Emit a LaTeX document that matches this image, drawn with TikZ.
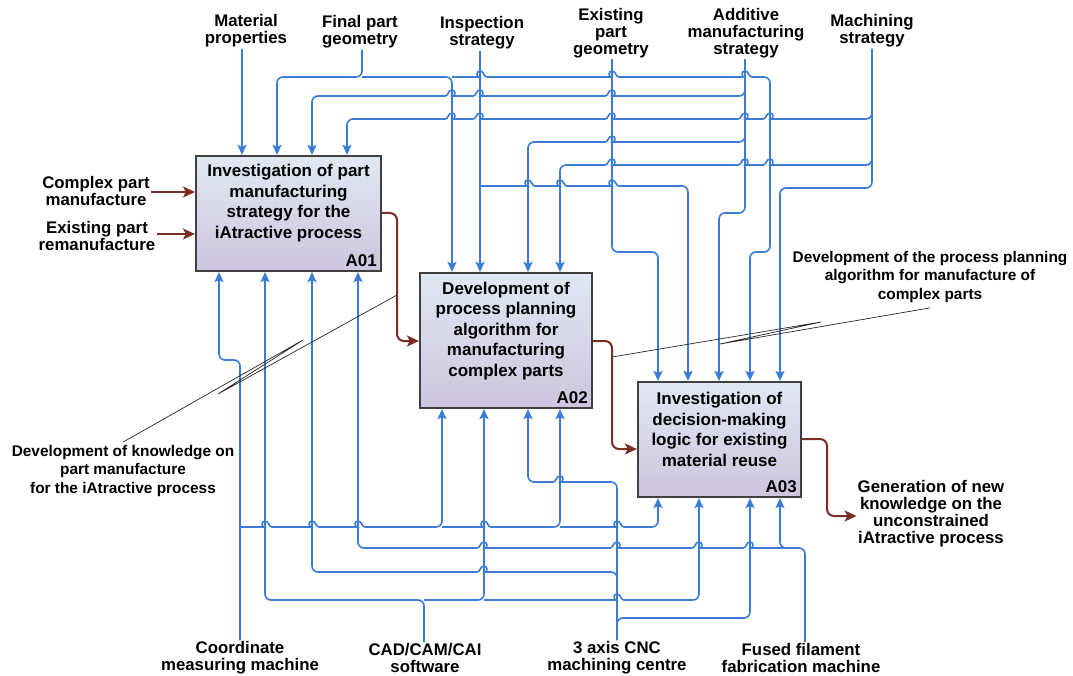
\documentclass[tikz,border=0pt]{standalone}
\usepackage{fontspec}
\setmainfont{Liberation Sans}
\usetikzlibrary{arrows.meta}
\definecolor{flow}{RGB}{58,124,214}
\definecolor{outc}{RGB}{122,44,37}
\definecolor{edgec}{RGB}{64,64,64}
\definecolor{topfill}{RGB}{224,232,243}
\definecolor{botfill}{RGB}{205,197,222}
\definecolor{leadc}{RGB}{40,40,40}

% small hump of a horizontal wire crossing a vertical one at x=#1 on row y=#2
\newcommand\hopR[2]{-- (#1-7,#2) [sharp corners] .. controls (#1-3.5,#2) and (#1-4,#2-6) .. (#1,#2-6) .. controls (#1+4,#2-6) and (#1+3.5,#2) .. (#1+7,#2) [rounded corners=6pt]}
\newcommand\hopL[2]{-- (#1+7,#2) [sharp corners] .. controls (#1+3.5,#2) and (#1+4,#2-6) .. (#1,#2-6) .. controls (#1-4,#2-6) and (#1-3.5,#2) .. (#1-7,#2) [rounded corners=6pt]}

\begin{document}
\begin{tikzpicture}[x=1pt,y=-1pt,
  wire/.style={draw=flow,line width=1.6pt,rounded corners=6pt},
  feed/.style={wire,-{Stealth[length=10pt,width=9pt,inset=2pt]}},
  flowout/.style={draw=outc,line width=2pt,rounded corners=7pt,-{Stealth[length=12pt,width=11pt,inset=3pt]}},
  leader/.style={draw=leadc,line width=0.7pt},
  act/.style={draw=edgec,line width=2.2pt,top color=topfill,bottom color=botfill,inner sep=0pt},
  acttext/.style={font=\fontsize{17pt}{20.5pt}\selectfont\bfseries,align=center,inner sep=0pt},
  actid/.style={font=\fontsize{17pt}{18pt}\selectfont\bfseries,anchor=south east,inner sep=5pt},
  lab/.style={font=\fontsize{16.8pt}{17pt}\selectfont\bfseries,align=center,inner sep=1pt},
  note/.style={font=\fontsize{15.4pt}{18.5pt}\selectfont\bfseries,align=center,inner sep=1pt},
]
\fill[white] (0,0) rectangle (1073,676);
\useasboundingbox (0,0) rectangle (1073,676);

% activity boxes
\node[act,minimum width=185pt,minimum height=115pt] (A01) at (288.5,213.5) {};
\node[act,minimum width=172pt,minimum height=135pt] (A02) at (506,340.5) {};
\node[act,minimum width=163pt,minimum height=115pt] (A03) at (719.5,439.5) {};
\node[acttext] (A01t) at (288.5,203) {Investigation of part\\manufacturing\\strategy for the\\iAtractive process};
\node[acttext] (A02t) at (506,331) {Development of\\process planning\\algorithm for\\manufacturing\\complex parts};
\node[acttext] (A03t) at (719.5,429.5) {Investigation of\\decision-making\\logic for existing\\material reuse};
\node[actid] (A01id) at (A01.south east) {A01};
\node[actid] (A02id) at (A02.south east) {A02};
\node[actid] (A03id) at (A03.south east) {A03};

% labels
\node[lab] (matprop) at (246,31) {Material\\properties};
\node[lab] (finalgeo) at (360,32) {Final part\\geometry};
\node[lab] (insp) at (482,33) {Inspection\\strategy};
\node[lab] (exgeo) at (611,33) {Existing\\part\\geometry};
\node[lab] (addms) at (746,33) {Additive\\manufacturing\\strategy};
\node[lab] (machs) at (872,31) {Machining\\strategy};
\node[lab] (cpm) at (96,191) {Complex part\\manufacture};
\node[lab] (epr) at (97,236) {Existing part\\remanufacture};
\node[lab] (cmm) at (240,658) {Coordinate\\measuring machine};
\node[lab] (cad) at (425,658) {CAD/CAM/CAI\\software};
\node[lab] (cnc) at (617,658) {3 axis CNC\\machining centre};
\node[lab] (fff) at (801,658) {Fused filament\\fabrication machine};
\node[note] (ppnote) at (930,277) {Development of the process planning\\algorithm for manufacture of\\complex parts};
\node[note] (kwnote) at (123,471) {Development of knowledge on\\part manufacture\\for the iAtractive process};
\node[lab] (newkw) at (931,514) {Generation of new\\knowledge on the\\unconstrained\\iAtractive process};

% controls
\draw[feed] (242,0 |- matprop.south) -- (242,0 |- A01.north);
\draw[feed] (362,0 |- finalgeo.south) -- (362,77) -- (277,77) -- (277,0 |- A01.north);
\draw[feed] (362,77) -- (452,77) -- (452,0 |- A02.north);
\draw[feed] (452,77) \hopR{480}{77} \hopR{612}{77} \hopR{745}{77} -- (770,77) -- (770,252) -- (750,252) -- (750,0 |- A03.north);
\draw[feed] (480,0 |- insp.south) -- (480,0 |- A02.north);
\draw[feed] (480,186) \hopR{528}{186} \hopR{560}{186} \hopR{612}{186} -- (688,186) -- (688,0 |- A03.north);
\draw[feed] (612,0 |- exgeo.south) -- (612,252) -- (658,252) -- (658,0 |- A03.north);
\draw[feed] (745,0 |- addms.south) -- (745,213) -- (719,213) -- (719,0 |- A03.north);
\draw[feed] (745,84) -- (745,96) \hopL{612}{96} \hopL{480}{96} \hopL{452}{96} -- (312,96) -- (312,0 |- A01.north);
\draw[feed] (745,130) -- (745,142) \hopL{612}{142} -- (528,142) -- (528,0 |- A02.north);
\draw[feed] (872,0 |- machs.south) -- (872,188) -- (780,188) -- (780,0 |- A03.north);
\draw[feed] (872,107) -- (872,119) \hopL{770}{119} \hopL{745}{119} \hopL{612}{119} \hopL{480}{119} \hopL{452}{119} -- (347,119) -- (347,0 |- A01.north);
\draw[feed] (872,153) -- (872,165) \hopL{770}{165} \hopL{745}{165} \hopL{612}{165} -- (560,165) -- (560,0 |- A02.north);

% mechanisms
\draw[feed] (240,0 |- cmm.north) -- (240,360) -- (219,360) -- (219,0 |- A01.south);
\draw[feed] (240,527) \hopR{265}{527} \hopR{312}{527} \hopR{358}{527} -- (442,527) -- (442,0 |- A02.south);
\draw[feed] (442,527) \hopR{484}{527} -- (560,527) -- (560,0 |- A02.south);
\draw[feed] (560,527) \hopR{617}{527} -- (658,527) -- (658,0 |- A03.south);
\draw[feed] (424,0 |- cad.north) -- (424,600) -- (265,600) -- (265,0 |- A01.south);
\draw[feed] (424,600) -- (484,600) -- (484,0 |- A02.south);
\draw[feed] (484,600) \hopR{617}{600} -- (699,600) -- (699,0 |- A03.south);
\draw[feed] (617,0 |- cnc.north) -- (617,482) \hopL{560}{482} -- (528,482) -- (528,0 |- A02.south);
\draw[feed] (617,584) -- (617,572) \hopL{484}{572} -- (312,572) -- (312,0 |- A01.south);
\draw[feed] (617,630) -- (617,618) -- (750,618) -- (750,0 |- A03.south);
\draw[feed] (805,0 |- fff.north) -- (805,548) \hopL{750}{548} \hopL{699}{548} \hopL{617}{548} \hopL{484}{548} -- (358,548) -- (358,0 |- A01.south);
\draw[feed] (792,548) -- (780,548) -- (780,0 |- A03.south);

% inputs and outputs
\draw[flowout] (cpm.east |- 0,192) -- (A01.west |- 0,192);
\draw[flowout] (epr.east |- 0,234) -- (A01.west |- 0,234);
\draw[flowout] (A01.east |- 0,213) -- (397,213) -- (397,341) -- (A02.west |- 0,341);
\draw[flowout] (A02.east |- 0,341) -- (612,341) -- (612,449) -- (A03.west |- 0,449);
\draw[flowout] (A03.east |- 0,439) -- (827,439) -- (827,516) -- (newkw.west |- 0,516);

% squiggle leaders
\draw[leader] ([yshift=-4pt]ppnote.south) -- (720,344) -- (821,322) -- (612,357);
\draw[leader] ([yshift=2pt]kwnote.north) -- (303,340) -- (218,394) -- (397,295);
\end{tikzpicture}
\end{document}
